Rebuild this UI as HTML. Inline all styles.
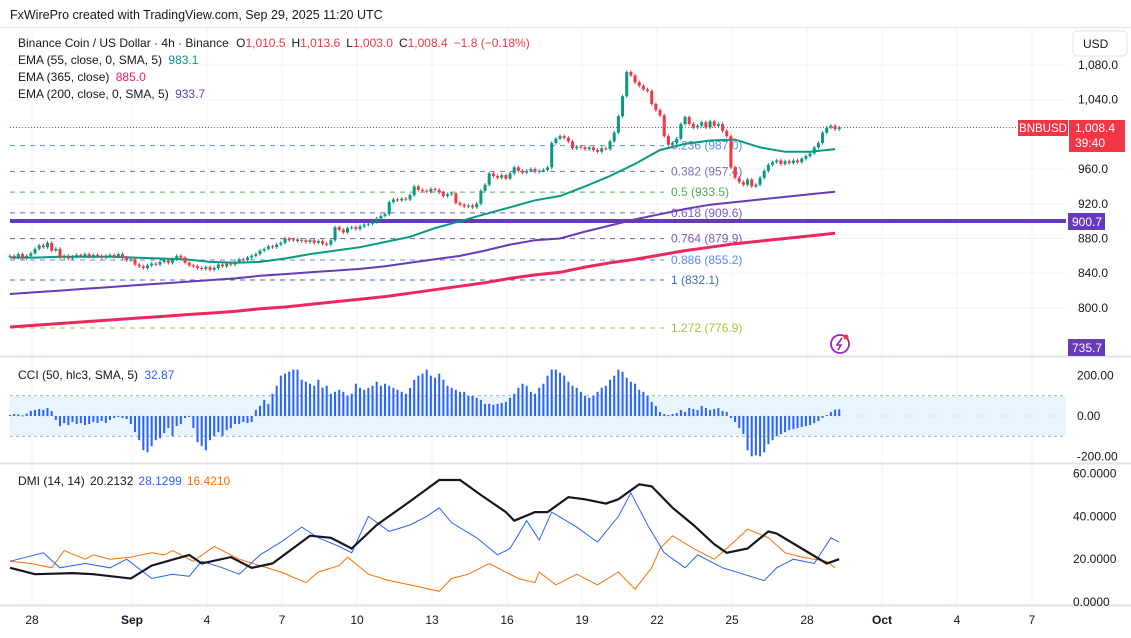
<!DOCTYPE html>
<html><head><meta charset="utf-8">
<style>
html,body{margin:0;padding:0;background:#fff;}
body{width:1131px;height:633px;overflow:hidden;font-family:"Liberation Sans",sans-serif;}
svg text{font-family:"Liberation Sans",sans-serif;}
</style></head>
<body>
<svg id="chart" width="1131" height="633" viewBox="0 0 1131 633" xmlns="http://www.w3.org/2000/svg">
<text x="10" y="19" font-size="12.5" fill="#131722">FxWirePro created with TradingView.com, Sep 29, 2025 11:20 UTC</text>
<line x1="0" y1="27.5" x2="1131" y2="27.5" stroke="#e0e3eb"/>
<g id="grid"></g>
<rect x="10" y="396" width="1056" height="40" fill="#e3f2fd" opacity="0.8"/>
<g id="fib"></g>
<line x1="10" y1="221" x2="1066" y2="221" stroke="#673ab7" stroke-width="4"/>
<g id="emas"></g>
<g id="candles"></g>
<g id="cci"></g>
<g id="dmi"></g>
<g id="axes"></g>
<g font-size="12">
<text x="18" y="47" fill="#131722">Binance Coin / US Dollar · 4h · Binance <tspan dx="4">O</tspan><tspan fill="#f23645">1,010.5</tspan><tspan dx="6">H</tspan><tspan fill="#f23645">1,013.6</tspan><tspan dx="6">L</tspan><tspan fill="#f23645">1,003.0</tspan><tspan dx="6">C</tspan><tspan fill="#f23645">1,008.4</tspan><tspan dx="6" fill="#f23645">−1.8 (−0.18%)</tspan></text>
<text x="18" y="64" fill="#131722">EMA (55, close, 0, SMA, 5) <tspan dx="3" fill="#089981">983.1</tspan></text>
<text x="18" y="81" fill="#131722">EMA (365, close) <tspan dx="3" fill="#e91e63">885.0</tspan></text>
<text x="18" y="98" fill="#131722">EMA (200, close, 0, SMA, 5) <tspan dx="3" fill="#673ab7">933.7</tspan></text>
<text x="18" y="379" fill="#131722">CCI (50, hlc3, SMA, 5) <tspan dx="3" fill="#2962ff">32.87</tspan></text>
<text x="18" y="485" fill="#131722">DMI (14, 14) <tspan dx="2">20.2132</tspan><tspan dx="5" fill="#2962ff">28.1299</tspan><tspan dx="5" fill="#ff6d00">16.4210</tspan></text>
</g>
<g>
<rect x="1073" y="31" width="54" height="25" rx="4" fill="#fff" stroke="#e0e3eb"/>
<text x="1083" y="48" font-size="12" fill="#131722">USD</text>
</g>
<g>
<rect x="1018" y="120" width="50" height="16" fill="#f23645"/>
<text x="1043" y="132" font-size="11.5" fill="#fff" text-anchor="middle">BNBUSD</text>
<rect x="1069" y="120" width="56" height="32" fill="#f23645"/>
<text x="1075" y="132" font-size="12" fill="#fff">1,008.4</text>
<text x="1075" y="147" font-size="12" fill="#fff">39:40</text>
</g>
<g>
<rect x="1068" y="213" width="37" height="17" fill="#673ab7"/>
<text x="1072" y="226" font-size="12" fill="#fff">900.7</text>
</g>
<g>
<rect x="1068" y="339" width="37" height="17" fill="#673ab7"/>
<text x="1072" y="352" font-size="12" fill="#fff">735.7</text>
</g>
<g>
<circle cx="840" cy="344" r="9" fill="none" stroke="#9c27b0" stroke-width="1.8"/>
<path d="M842 338 L837 345 L841 345 L838 350" fill="none" stroke="#9c27b0" stroke-width="1.6"/>
<circle cx="846" cy="337" r="2.5" fill="#f23645"/>
</g>
</svg>
<script>
// ---- data ----
const closes = [860,858,862,857,860,863,
868,872,870,875,866,868, 858,860,857,859,861,860, 862,859,861,860,858,860,
861,859,862,858,855,856, 850,848,846,849,851,850, 853,855,852,856,860,858,
852,849,848,846,845,847, 844,846,850,848,851,850, 853,856,855,858,860,862,
866,868,871,870,873,875, 880,878,879,877,878,876, 878,875,877,874,873,878,
893,890,887,892,893,891, 894,896,897,899,903,906, 908,922,925,924,926,925,
930,940,936,935,934,937, 936,933,929,931,932,921, 919,917,918,916,920,935,
942,955,952,950,953,949, 955,962,958,956,958,960, 957,958,959,962,990,995,
998,996,992,984,986,985, 983,985,982,980,984,983, 992,1002,1021,1044,1072,1068,
1060,1056,1052,1050,1035,1028, 1022,998,988,990,995,1012, 1020,1012,1008,1010,1014,1008,
1015,1010,1012,1004,998,962, 950,945,942,948,940,942, 950,958,965,968,970,966,
969,967,970,968,972,975, 978,985,990,1002,1008,1010, 1006,1008];
// EMA values sampled every 6 bars (bar 0,6,...,198)
const ema55 = [858,858,859,859,859,858,857,856,853,852,853,857,862,866,870,876,882,892,900,908,916,924,929,940,952,966,982,989,993,994,985,980,980,983];
const ema200 = [816,818,820,822,824,826,828,830,832,834,837,839,841,843,845,848,852,856,860,866,873,878,880,888,895,902,908,914,919,922,925,928,931,934];
const ema365 = [778,780,782,784,786,788,790,792,794,796,799,801,804,807,810,813,817,821,825,829,834,838,841,847,852,856,861,866,870,874,877,880,883,886];
const fibRatios = ["0.236","0.382","0.5","0.618","0.764","0.886","1","1.272"];
const fibPrices = [987.0,957.4,933.5,909.6,879.9,855.2,832.1,776.9];
const fibColors = ["#5b8af5","#7e6bb8","#4caf50","#7e57c2","#7e57c2","#5b8af5","#3d6bb5","#a5c43b"];
const priceTicks = [1080,1040,960,920,880,840,800];
const cci = [5,10,8,3,12, 25,30,35,30,40,25, -20,-50,-35,-45,-30,-40,
-35,-45,-40,-30,-35,-25,-35,-20,-10,-5,-10,-15, -40,-80,-120, -170,-180,-150,-120,
-110,-85,-60,-100,-50,-40,-10,-5, -60,-130,-150,-170,-120,-100, -80,-100,-70,-60,-40,
-40,-30,-35,-30, 30,50,80,60, 110,150,200,210,220,230,230,180,170,
160,150,180,140,150,110,120,130,120,100, 110,160,140,130,140,150,170,
150,160,150,140,130,120,110, 140,180,200,210, 230,200,190,210,180,150,140,
130,120,120,100,100,90,80, 60,60,55,60,65,70,90, 110,140,160,150,120,
110,140,160,200,230, 230,215,200,170,150,140, 120,100,90,100,120,140,
150,180,200,230,220,190, 170,160,130,120,100,70, 50,20,10,5,
10,15,30,20,40,35, 30,50,40,30,35,40,25,20, -10,-30,-60,-90,
-170,-200,-195,-200,-180, -140,-120,-100,-90,-80, -70,-65,-60,-55,-50,-45,-35,-25,
-10,5,20,32,33];
const cciTicks = ["200.00","0.00","-200.00"];
const cciTickVals = [200,0,-200];
const adxBars = [0,6,15,20,29,34,43,46,53,58,63,72,77,82,88,96,103,108,113,119,121,126,129,134,138,143,146,151,154,159,164,169,172,177,182,184,190,196,199];
const adxVals = [16,13,13.5,13,11,17,22,18,21,16,18,31,30,25,36,47,57,57,50,42,38,42,42,49,48,46,48,55,54,44,36,27,23,25,33,32,25,18,20];
const plusBars = [0,8,12,18,24,28,34,39,43,46,51,55,60,65,70,74,79,82,86,91,96,100,103,106,112,117,120,124,127,130,136,141,146,149,153,157,162,165,171,176,181,184,188,193,197,199];
const plusVals = [19,23,16,18,16,20,11,13,12,19,16,13,22,28,35,30,26,23,40,33,36,40,44,37,30,22,25,38,29,42,35,28,40,51,36,23,16,22,16,13,10,16,20,18,30,28];
const minusBars = [0,5,10,13,18,20,24,29,34,37,39,44,49,55,60,65,71,74,79,81,86,91,96,103,106,110,115,122,126,127,131,136,141,146,150,154,156,159,164,169,172,177,182,186,190,196,198];
const minusVals = [19,18,16,24,20,22,20,21,23,22,24,19,26,20,17,14,9,14,17,21,13,10,8,5,11,13,18,11,9,14,8,13,8,14,6,16,25,31,25,20,25,34,30,23,21,19,16];
const dmiTicks = ["60.0000","40.0000","20.0000","0.0000"];
const dmiTickVals = [60,40,20,0];
const dayLabels = ["28","Sep","4","7","10","13","16","19","22","25","28","Oct","4","7"];
const dayOffsets = [0,4,7,10,13,16,19,22,25,28,31,34,37,40]; // days from Aug 28

// ---- scales ----
const NS="http://www.w3.org/2000/svg";
const xBar = i => 10 + i*4.167;
const xDay = d => 32 + d*25;
const yP = p => 65 + (1080-p)*0.8675;
const yC = v => 416 - v*0.2016;
const yD = v => 602 - v*2.14;
function mk(parent, tag, attrs){const e=document.createElementNS(NS,tag);for(const k in attrs)e.setAttribute(k,attrs[k]);document.getElementById(parent).appendChild(e);return e;}

// grid
priceTicks.forEach(p=>{const l=mk('grid','line',{x1:10,x2:1066,y1:yP(p),y2:yP(p),stroke:'#f0f3fa'});

});
dayOffsets.forEach(d=>{const l=mk('grid','line',{x1:xDay(d),x2:xDay(d),y1:28,y2:605,stroke:'#f0f3fa'});

});
[356.5,463.5,605.5].forEach(y=>{const l=mk('grid','line',{x1:0,x2:1131,y1:y,y2:y,stroke:'#e0e3eb','stroke-width':2});

});
[yC(100),yC(0),yC(-100)].forEach(y=>{const l=mk('grid','line',{x1:10,x2:1066,y1:y,y2:y,stroke:'#9598a1','stroke-dasharray':'3,3'});

});

// fib
fibPrices.forEach((p,k)=>{const y=yP(p);
const l=mk('fib','line',{x1:10,x2:664,y1:y,y2:y,stroke:fibColors[k],'stroke-dasharray':'5,5'});


const t=mk('fib','text',{x:671,y:y+4,'font-size':12,fill:fibColors[k]});t.textContent=fibRatios[k]+' ('+p.toFixed(1)+')';

});

// price line
const pl=mk('emas','line',{x1:10,x2:1066,y1:yP(closes[closes.length-1]),y2:yP(closes[closes.length-1]),stroke:'#f23645','stroke-dasharray':'1,2'});



// EMAs
function emaPath(arr){return arr.map((v,k)=>(k?'L':'M')+xBar(Math.min(k*6,199)).toFixed(1)+' '+yP(v).toFixed(1)).join(' ');}
[[ema365,'#f0275f',3,'ema-365-line'],[ema200,'#673ab7',2,'ema-200-line'],[ema55,'#089981',2,'ema-55-line']].forEach(a=>{
const p=mk('emas','path',{d:emaPath(a[0]),fill:'none',stroke:a[1],'stroke-width':a[2]});

});

// candles
closes.forEach((c,i)=>{const o=i?closes[i-1]:c;const up=c>=o;const col=up?'#089981':'#f23645';
const x=xBar(i);const hi=Math.max(o,c)+2,lo=Math.min(o,c)-2;
const w=mk('candles','line',{x1:x,x2:x,y1:yP(hi),y2:yP(lo),stroke:col,'stroke-width':1});


const top=yP(Math.max(o,c)),bot=yP(Math.min(o,c));
const r=mk('candles','rect',{x:x-1.5,y:top,width:3,height:Math.max(1,bot-top),fill:col});

});

// CCI
cci.forEach((v,i)=>{const x=xBar(i);const y0=yC(0),y1=yC(v);
const b=mk('cci','rect',{x:x-1,y:Math.min(y0,y1),width:2,height:Math.max(1,Math.abs(y1-y0)),fill:'#2962ff'});

});

// DMI
function linePath(bars,vals){return bars.map((b,k)=>(k?'L':'M')+xBar(b).toFixed(1)+' '+yD(vals[k]).toFixed(1)).join(' ');}
[[minusBars,minusVals,'#ff6d00',1,'minus-di-line'],[plusBars,plusVals,'#2962ff',1,'plus-di-line'],[adxBars,adxVals,'#131722',2.2,'adx-line']].forEach(a=>{
const p=mk('dmi','path',{d:linePath(a[0],a[1]),fill:'none',stroke:a[2],'stroke-width':a[3]});

});

// axes labels
priceTicks.forEach(p=>{const t=mk('axes','text',{x:1078,y:yP(p)+4,'font-size':12,fill:'#131722'});
t.textContent=p>=1000?(Math.floor(p/1000)+','+String(p%1000).padStart(3,'0')+'.0'):p+'.0';

});
cciTicks.forEach((s,k)=>{const t=mk('axes','text',{x:1077,y:yC(cciTickVals[k])+4,'font-size':12,fill:'#131722'});t.textContent=s;

});
dmiTicks.forEach((s,k)=>{const t=mk('axes','text',{x:1073,y:yD(dmiTickVals[k])+4,'font-size':12,fill:'#131722'});t.textContent=s;

});
dayLabels.forEach((s,k)=>{const bold=(s==='Sep'||s==='Oct');const t=mk('axes','text',{x:xDay(dayOffsets[k]),y:624,'font-size':12,fill:'#131722','text-anchor':'middle','font-weight':bold?'bold':'normal'});t.textContent=s;

});
</script>
</body></html>
